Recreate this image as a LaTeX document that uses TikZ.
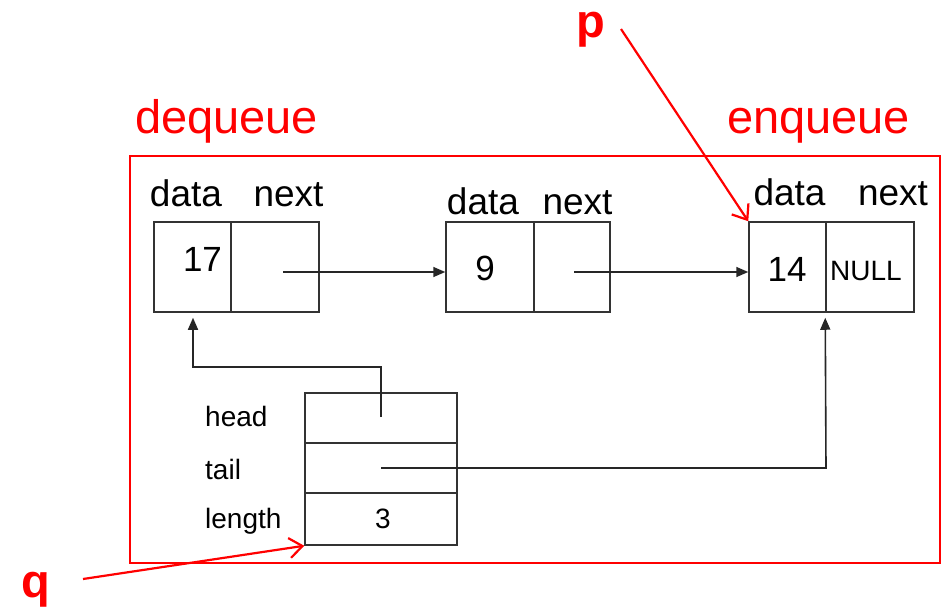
\documentclass[tikz,border=0pt]{standalone}
\usepackage{fontspec}
\setmainfont{Liberation Sans}
\usetikzlibrary{arrows.meta}
\definecolor{qred}{RGB}{255,0,0}
\tikzset{
  cell/.style={draw=black!80, line width=1.5pt, inner sep=0pt},
  lbl/.style={anchor=base, inner sep=0pt, font=\fontsize{37}{40}\selectfont},
  val/.style={anchor=base, inner sep=0pt, font=\fontsize{35}{38}\selectfont},
  small/.style={anchor=base, inner sep=0pt, font=\fontsize{28}{30}\selectfont},
  sfield/.style={anchor=base west, inner sep=0pt, font=\fontsize{28}{30}\selectfont},
  big/.style={anchor=base, inner sep=0pt, text=qred, font=\fontsize{47}{50}\selectfont},
  bigb/.style={anchor=base, inner sep=0pt, text=qred, font=\fontsize{47}{50}\selectfont\bfseries},
  link/.style={draw=black!85, line width=1.6pt, -{Triangle[length=12pt,width=10pt]}},
  redarrow/.style={draw=qred, line width=2.2pt, -{Straight Barb[length=13pt,width=20pt,line width=2.2pt]}},
}
\begin{document}
\begin{tikzpicture}[x=1pt,y=-1pt]
\useasboundingbox (0,0) rectangle (951,606);
% frame
\node[draw=qred, line width=1.6pt, minimum width=810pt, minimum height=407pt, inner sep=0pt] (frame) at (535,359.5) {};
\node[big] (deq) at (226.5,133) {dequeue};
\node[big] (enq) at (818.5,133) {enqueue};
% node 1
\node[cell, minimum width=77pt, minimum height=90pt] (n1d) at (192.5,267) {};
\node[cell, minimum width=88pt, minimum height=90pt] (n1n) at (275,267) {};
\node[lbl] (n1dl) at (186,206) {data};
\node[lbl] (n1nl) at (288.5,206) {next};
\node[val] (v17) at (202.5,271.5) {17};
\coordinate (n1p) at (283,272);
% node 2
\node[cell, minimum width=88pt, minimum height=90pt] (n2d) at (490,267) {};
\node[cell, minimum width=76pt, minimum height=90pt] (n2n) at (572,267) {};
\node[lbl] (n2dl) at (483,214) {data};
\node[lbl] (n2nl) at (577.5,214) {next};
\node[val] (v9) at (485,280) {9};
\coordinate (n2p) at (574,272);
% node 3
\node[cell, minimum width=77pt, minimum height=90pt] (n3d) at (787.5,267) {};
\node[cell, minimum width=88pt, minimum height=90pt] (n3n) at (870,267) {};
\node[lbl] (n3dl) at (789.5,205) {data};
\node[lbl] (n3nl) at (893,205) {next};
\node[val] (v14) at (787,281.5) {14};
\node[small] (vnull) at (866,280) {NULL};
% struct
\node[cell, minimum width=152pt, minimum height=50pt] (sh) at (381,418) {};
\node[cell, minimum width=152pt, minimum height=50pt] (st) at (381,468) {};
\node[cell, minimum width=152pt, minimum height=52pt] (sl) at (381,519) {};
\node[sfield] (hl) at (205,426.5) {head};
\node[sfield] (tl) at (205,479) {tail};
\node[sfield] (ll) at (205,528) {length};
\node[small] (v3) at (383,528) {3};
\coordinate (hp) at (381,417);
\coordinate (tp) at (381,468);
% links
\draw[link] (n1p) -- (n2d.west |- n1p);
\draw[link] (n2p) -- (n3d.west |- n2p);
\draw[link] (hp) -- (381,367) -- (193,367) -- ([yshift=-5pt]n1d.south -| 193,0);
\draw[link] (tp) -- (826,468) -- ([yshift=-5pt]n3n.south west);
% p and q
\node[bigb] (p) at (591,37) {p};
\node[bigb] (q) at (36,597) {q};
\coordinate (ps) at (621,29);
\coordinate (qs) at (83,579);
\draw[redarrow] (ps) -- (n3d.north west);
\draw[redarrow] (qs) -- (sl.south west);
\end{tikzpicture}
\end{document}
